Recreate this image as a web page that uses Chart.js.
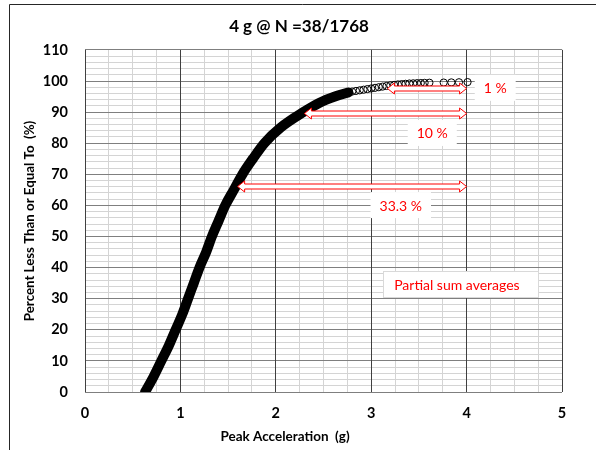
<!DOCTYPE html>
<html>
<head>
<meta charset="utf-8">
<script src="https://cdn.jsdelivr.net/npm/chart.js@4/dist/chart.umd.min.js"></script>
<style>
  body { margin: 0; background: #fff; }
</style>
</head>
<body>
<canvas id="cdfChart" width="596" height="450"></canvas>
<script>
// cumulative distribution
const curveX = [0.63, 0.72, 0.80, 0.88, 0.95, 1.02, 1.08, 1.14, 1.20, 1.27, 1.33, 1.40, 1.47, 1.56, 1.65, 1.76, 1.88, 2.05, 2.29, 2.46, 2.62, 2.76];
const curveY = [0, 5, 10, 15, 20, 25, 30, 35, 40, 45, 50, 55, 60, 65, 70, 75, 80, 85, 90, 93, 95, 96.3];

// sparse upper tail (individual records)
const tailX = [2.60, 2.64, 2.68, 2.72, 2.76, 2.80, 2.84, 2.88, 2.92, 2.96, 3.00, 3.04, 3.08, 3.12, 3.16, 3.20, 3.24, 3.28, 3.32, 3.36, 3.40, 3.44, 3.48, 3.52, 3.56, 3.61, 3.76, 3.84, 3.92, 4.01];
const tailY = [95.0, 95.4, 95.7, 96.0, 96.3, 96.6, 96.8, 97.0, 97.2, 97.4, 97.6, 97.8, 98.0, 98.2, 98.4, 98.6, 98.75, 98.9, 99.0, 99.1, 99.2, 99.25, 99.3, 99.35, 99.4, 99.45, 99.5, 99.55, 99.6, 99.65];

// partial sum averages: start, end and level of each arrow
const arrowLabels = ['1 %', '10 %', '33.3 %'];
const arrowStart = [3.17, 2.30, 1.60];
const arrowEnd = [4.0, 4.0, 4.0];
const arrowLevel = [97.8, 89.8, 66.2];

const xRange = [0, 5];
const yRange = [0, 110];

const font = 'Lato, "Open Sans", sans-serif';
const red = '#ff0000';

const partialSums = {
  id: 'partialSums',
  afterDatasetsDraw(chart) {
    const {ctx} = chart;
    const xs = chart.scales.x;
    const ys = chart.scales.y;
    ctx.save();
    // block arrows, double headed
    arrowLabels.forEach((lab, i) => {
      const x1 = xs.getPixelForValue(arrowStart[i]);
      const x2 = xs.getPixelForValue(arrowEnd[i]);
      const y = Math.round(ys.getPixelForValue(arrowLevel[i])) + 0.5;
      const sh = 2.5, hh = 5.5, hl = 7;
      ctx.beginPath();
      ctx.moveTo(x1, y);
      ctx.lineTo(x1 + hl, y - hh);
      ctx.lineTo(x1 + hl, y - sh);
      ctx.lineTo(x2 - hl, y - sh);
      ctx.lineTo(x2 - hl, y - hh);
      ctx.lineTo(x2, y);
      ctx.lineTo(x2 - hl, y + hh);
      ctx.lineTo(x2 - hl, y + sh);
      ctx.lineTo(x1 + hl, y + sh);
      ctx.lineTo(x1 + hl, y + hh);
      ctx.closePath();
      ctx.fillStyle = '#ffffff';
      ctx.fill();
      ctx.strokeStyle = red;
      ctx.lineWidth = 1;
      ctx.stroke();
    });

    // labels next to the arrows
    const labelPos = [[4.3, 97.8], [3.64, 83.3], [3.31, 60.1]];
    ctx.font = '14px ' + font;
    ctx.textAlign = 'center';
    ctx.textBaseline = 'middle';
    arrowLabels.forEach((lab, i) => {
      const cx = xs.getPixelForValue(labelPos[i][0]);
      const cy = ys.getPixelForValue(labelPos[i][1]);
      const w = ctx.measureText(lab).width + 18;
      ctx.fillStyle = '#ffffff';
      ctx.fillRect(cx - w / 2, cy - 13, w, 26);
      ctx.fillStyle = red;
      ctx.fillText(lab, cx, cy + 1);
    });

    // "Partial sum averages" text box
    const bx = xs.getPixelForValue(3.94);
    const by = ys.getPixelForValue(34.6);
    const txt = 'Partial sum averages';
    const bw = ctx.measureText(txt).width + 30;
    ctx.fillStyle = '#ffffff';
    ctx.fillRect(bx - bw / 2, by - 13, bw, 26);
    ctx.strokeStyle = '#d9d9d9';
    ctx.strokeRect(Math.round(bx - bw / 2) + 0.5, Math.round(by - 13) + 0.5, Math.round(bw), 26);
    ctx.fillStyle = red;
    ctx.fillText(txt, bx - 4, by + 1);
    ctx.restore();
  },
  afterDraw(chart) {
    const {ctx} = chart;
    ctx.save();
    // x axis title, set left of the plot centre as in the source
    ctx.fillStyle = '#000000';
    ctx.font = 'bold 13.5px ' + font;
    ctx.textAlign = 'center';
    ctx.textBaseline = 'middle';
    ctx.fillText('Peak Acceleration  (g)', 285, 437);
    // outer frame: left and top edges
    ctx.strokeStyle = '#262626';
    ctx.lineWidth = 1;
    ctx.beginPath();
    ctx.moveTo(9.5, 450);
    ctx.lineTo(9.5, 4.5);
    ctx.lineTo(596, 4.5);
    ctx.stroke();
    ctx.restore();
  }
};

const tickFont = {family: font, size: 14.5, weight: 'bold'};

const ctx1 = document.getElementById('cdfChart').getContext('2d');
const cdfChart = new Chart(ctx1, {
  type: 'scatter',
  data: {
    datasets: [{
      data: curveX.map((x, i) => ({x: x, y: curveY[i]})),
      showLine: true,
      borderColor: '#000000',
      borderWidth: 10,
      borderCapStyle: 'round',
      borderJoinStyle: 'round',
      cubicInterpolationMode: 'monotone',
      pointRadius: 0,
      xAxisID: 'x',
      yAxisID: 'y',
    }, {
      data: tailX.map((x, i) => ({x: x, y: tailY[i]})),
      pointStyle: 'circle',
      pointRadius: 3.6,
      borderColor: '#000000',
      borderWidth: 1,
      backgroundColor: 'transparent',
      xAxisID: 'x',
      yAxisID: 'y',
    }],
  },
  options: {
    responsive: false,
    animation: false,
    devicePixelRatio: 1,
    layout: {
      padding: {left: 9, right: 7, top: 0, bottom: 0},
    },
    scales: {
      xMinor: {
        type: 'linear',
        position: 'bottom',
        min: xRange[0],
        max: xRange[1],
        ticks: {display: false, stepSize: 0.25, autoSkip: false},
        grid: {color: '#d4d4d4', drawTicks: false, z: -3},
        border: {display: false},
        afterFit: (s) => { s.height = 0; },
      },
      yMinor: {
        type: 'linear',
        position: 'left',
        min: yRange[0],
        max: yRange[1],
        ticks: {display: false, stepSize: 2, autoSkip: false},
        grid: {color: '#d4d4d4', drawTicks: false, z: -3},
        border: {display: false},
        afterFit: (s) => { s.width = 0; },
      },
      rightGap: {
        type: 'linear',
        position: 'right',
        display: true,
        ticks: {display: false},
        grid: {display: false},
        border: {display: false},
        afterFit: (s) => { s.width = 27; },
      },
      y: {
        type: 'linear',
        position: 'left',
        min: yRange[0],
        max: yRange[1],
        ticks: {
          stepSize: 10,
          autoSkip: false,
          padding: 17,
          color: '#000000',
          font: tickFont,
        },
        grid: {color: '#7f7f7f', drawTicks: false, z: -2},
        border: {display: false},
        title: {
          display: true,
          text: 'Percent Less Than or Equal To  (%)',
          color: '#000000',
          font: {family: font, size: 13.3, weight: 'bold'},
          padding: {top: 13, bottom: 0},
        },
        afterFit: (s) => { s.width = 76; },
      },
      x: {
        type: 'linear',
        position: 'bottom',
        min: xRange[0],
        max: xRange[1],
        ticks: {
          stepSize: 1,
          autoSkip: false,
          padding: 13,
          color: '#000000',
          font: tickFont,
        },
        grid: {color: '#404040', drawTicks: false, z: -1},
        border: {display: false},
        afterFit: (s) => { s.height = 58; },
      },
    },
    plugins: {
      legend: {display: false},
      tooltip: {enabled: false},
      title: {
        display: true,
        text: '4 g @ N =38/1768',
        color: '#000000',
        font: {family: font, size: 17, weight: 'bold'},
        padding: {top: 16.5, bottom: 13},
      },
    },
  },
  plugins: [partialSums],
});
</script>
</body>
</html>
